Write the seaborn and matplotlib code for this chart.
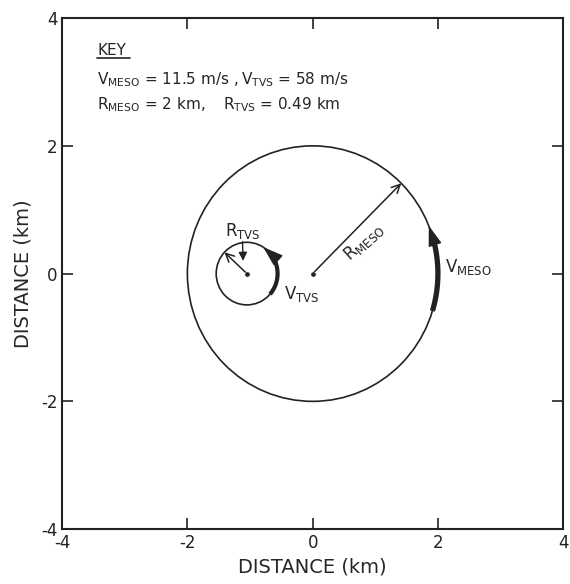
import numpy as np
import matplotlib.pyplot as plt
import seaborn as sns
from matplotlib.patches import Circle

# ==========================================
# DATA (km / degrees)
# ==========================================
center_x = [0.0, -1.05]          # MESO, TVS
center_y = [0.0, 0.0]
radius = [2.0, 0.49]

arc_start = [-17, -41]           # start of thick rotation arrow
arc_head = [15, 40]              # where the arrow head begins
arc_tip = [22, 58]               # tip of arrow head
arc_lw = [3.8, 3.0]

radius_angle = [45, 137]         # direction of the radius arrows

ticks = [-4, -2, 0, 2, 4]

key_title = "KEY"
key_row1 = [r"$\mathregular{V_{MESO}}$ = 11.5 m/s ,", r"$\mathregular{V_{TVS}}$ = 58 m/s"]
key_row2 = [r"$\mathregular{R_{MESO}}$ = 2 km,", r"$\mathregular{R_{TVS}}$ = 0.49 km"]
key_row_x = [-3.44, -1.15, -3.44, -1.43]
key_row_y = [3.04, 3.04, 2.65, 2.65]

sns.set_style("ticks", {"xtick.direction": "in", "ytick.direction": "in"})
plt.rcParams["font.family"] = ["DejaVu Sans"]
plt.rcParams["axes.unicode_minus"] = False
plt.rcParams["mathtext.fontset"] = "dejavusans"

fig = plt.figure(figsize=(5.7, 5.84), dpi=100)
ax = fig.add_axes([0.109, 0.094, 0.879, 0.875])

# circles + centre dots
for cx, cy, r in zip(center_x, center_y, radius):
    ax.add_patch(Circle((cx, cy), r, fill=False, lw=1.2, ec="#222222"))
sns.scatterplot(x=center_x, y=center_y, s=14, color="#222222", ax=ax, zorder=5)

# rotation arrows (thick arcs with filled heads)
for cx, cy, r, a0, a1, a2, lw in zip(center_x, center_y, radius, arc_start, arc_head, arc_tip, arc_lw):
    th = np.radians(np.linspace(a0, a1 + 2, 60))
    ax.plot(cx + r * np.cos(th), cy + r * np.sin(th), color="#222222", lw=lw, solid_capstyle="butt")
    ax.annotate("", xy=(cx + r * np.cos(np.radians(a2)), cy + r * np.sin(np.radians(a2))),
                xytext=(cx + r * np.cos(np.radians(a1)), cy + r * np.sin(np.radians(a1))),
                arrowprops=dict(arrowstyle="-|>,head_length=0.9,head_width=0.3", mutation_scale=14,
                                lw=1, color="#222222", shrinkA=0, shrinkB=0))

# radius arrows
for cx, cy, r, ang in zip(center_x, center_y, radius, radius_angle):
    t = np.radians(ang)
    ax.annotate("", xy=(cx + r * np.cos(t), cy + r * np.sin(t)), xytext=(cx, cy),
                arrowprops=dict(arrowstyle="->,head_length=0.5,head_width=0.25", mutation_scale=12,
                                lw=1.1, color="#222222", shrinkA=0, shrinkB=0))

# leader from R_TVS label
ax.annotate("", xy=(-1.11, 0.2), xytext=(-1.12, 0.5),
            arrowprops=dict(arrowstyle="-|>,head_length=0.5,head_width=0.25", mutation_scale=10,
                            lw=1, color="#222222", shrinkA=0, shrinkB=0))

fs = 12
ax.text(-1.11, 0.67, r"$\mathregular{R_{TVS}}$", fontsize=fs, ha="center", va="center")
ax.text(-0.46, -0.32, r"$\mathregular{V_{TVS}}$", fontsize=fs, ha="left", va="center")
ax.text(0.81, 0.49, r"$\mathregular{R_{MESO}}$", fontsize=fs, ha="center", va="center", rotation=42)
ax.text(2.12, 0.1, r"$\mathregular{V_{MESO}}$", fontsize=fs, ha="left", va="center")

# key
ax.text(-3.44, 3.5, key_title, fontsize=11, ha="left", va="center")
ax.plot([-3.44, -2.92], [3.37, 3.37], color="#222222", lw=1.2)
for txt, x, y in zip(key_row1 + key_row2, key_row_x, key_row_y):
    ax.text(x, y, txt, fontsize=11, ha="left", va="center")

ax.set_xlim(-4, 4)
ax.set_ylim(-4, 4)
ax.set_xticks(ticks)
ax.set_yticks(ticks)
ax.tick_params(top=True, right=True, length=8, width=1.2, labelsize=12, colors="#222222")
for s in ax.spines.values():
    s.set_linewidth(1.5)
    s.set_color("#222222")
ax.set_xlabel("DISTANCE (km)", fontsize=14, labelpad=4)
ax.set_ylabel("DISTANCE (km)", fontsize=14, labelpad=6)

plt.savefig("out.png", dpi=100)
